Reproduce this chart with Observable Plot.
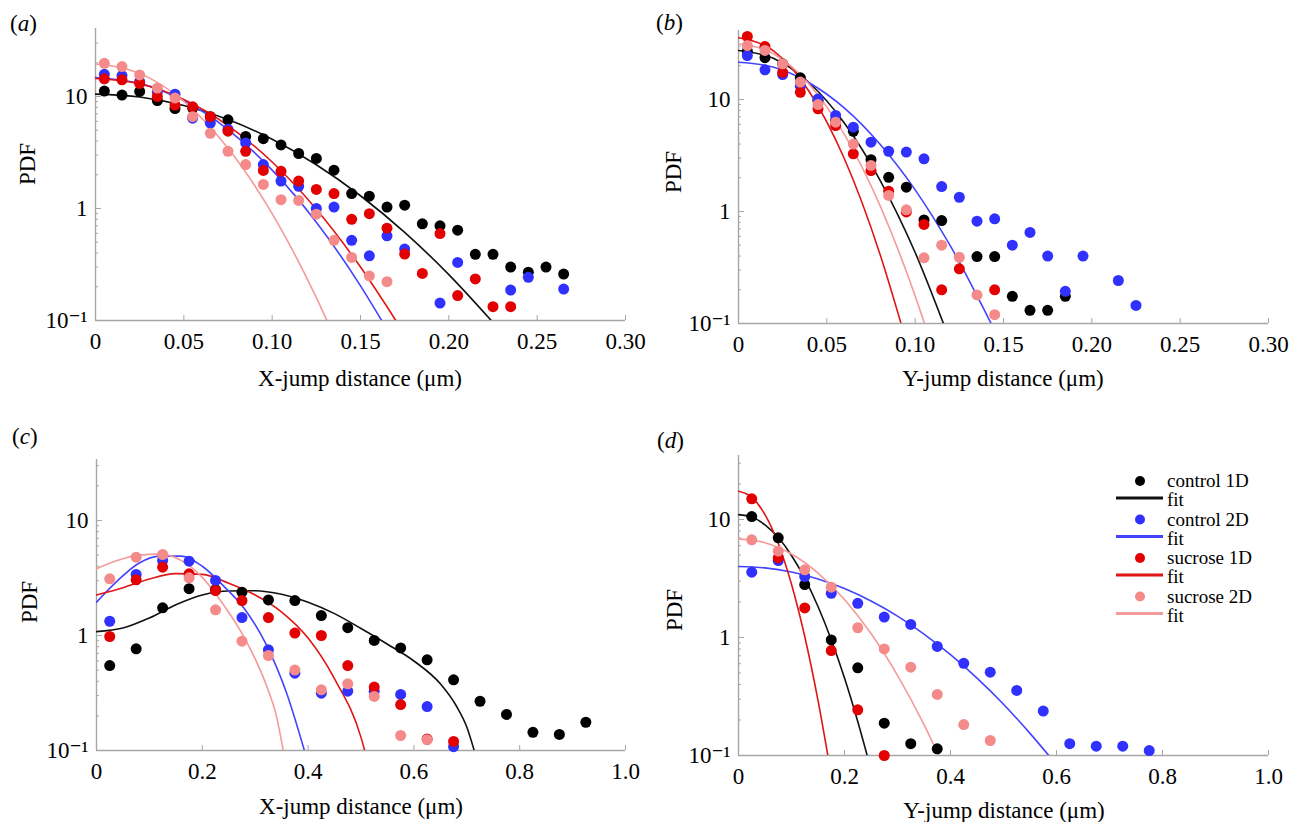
<!DOCTYPE html>
<html><head><meta charset="utf-8">
<script src="https://cdn.jsdelivr.net/npm/d3@7"></script>
<script src="https://cdn.jsdelivr.net/npm/@observablehq/plot@0.6"></script>
<style>
body{margin:0;background:#fff;}
#root{position:relative;width:1291px;height:822px;overflow:hidden;font-family:"Liberation Serif","Times New Roman","DejaVu Serif",serif;color:#000;background:#fff;}
.abs{position:absolute;white-space:nowrap;font-size:23px;line-height:1;}
.ylab{transform:translate(-50%,-50%) rotate(-90deg);}
.xlab{transform:translate(-50%,-50%);}
svg.panel{position:absolute;overflow:visible;}
</style></head><body><div id="root"></div>
<script>
// ---------- data ----------
const seriesNames = ["control 1D", "control 2D", "sucrose 1D", "sucrose 2D"];
const dotColors = ["#000000", "#3030ff", "#e30000", "#f58a8a"];
const lineColors = ["#111111", "#4444ff", "#e01515", "#f59a9a"];

const binsAB = [0.005,0.015,0.025,0.035,0.045,0.055,0.065,0.075,0.085,0.095,0.105,0.115,0.125,0.135,0.145,0.155,0.165,0.175,0.185,0.195,0.205,0.215,0.225,0.235,0.245,0.255,0.265];
const binsCD = [0.025,0.075,0.125,0.175,0.225,0.275,0.325,0.375,0.425,0.475,0.525,0.575,0.625,0.675,0.725,0.775,0.825,0.875,0.925];

const xTicksAB = [0, 0.05, 0.10, 0.15, 0.20, 0.25, 0.30];
const xTicksCD = [0, 0.2, 0.4, 0.6, 0.8, 1.0];
const yTicksMajor = [0.1, 1, 10];
const yTicksMinor = [0.2,0.3,0.4,0.5,0.6,0.7,0.8,0.9,2,3,4,5,6,7,8,9,20,30];

// (a) X-jump, short lag
const a_control1D = [11.2,10.3,11.1,9.2,7.8,7.9,6.6,6.2,4.4,4.2,3.7,3.1,2.8,2.2,1.36,1.29,1.03,1.07,0.73,0.70,0.64,0.39,0.39,0.30,0.27,0.30,0.26];
const a_control2D = [15.8,15.4,13.6,11.0,10.5,6.4,5.8,5.1,3.85,2.47,1.76,1.58,1.0,1.03,0.52,0.378,0.57,0.434,null,0.143,0.33,null,null,0.187,0.243,null,0.191];
const a_sucrose1D = [14.4,14.1,13.1,10.0,8.4,8.1,6.6,4.9,3.24,2.19,2.15,1.76,1.48,1.36,0.80,0.90,0.667,0.392,0.263,0.597,0.167,0.235,0.133,0.133];
const a_sucrose2D = [19.8,18.5,15.6,11.9,9.7,6.6,4.7,3.24,2.47,1.64,1.2,1.18,0.89,0.52,0.366,0.25,0.222];
const a_fit_control1D = [[0,10.5],[0.025,9.9],[0.05,8.3],[0.075,6.23],[0.1,4.15],[0.125,2.46],[0.15,1.30],[0.175,0.612],[0.2,0.257],[0.224,0.1]];
const a_fit_control2D = [[0,14.8],[0.025,13.1],[0.05,9.2],[0.075,5.07],[0.1,2.2],[0.125,0.754],[0.15,0.204],[0.162,0.1]];
const a_fit_sucrose1D = [[0,14.5],[0.025,13.0],[0.05,9.4],[0.075,5.5],[0.1,2.6],[0.125,0.985],[0.15,0.30],[0.17,0.1]];
const a_fit_sucrose2D = [[0,19.5],[0.025,16.1],[0.05,9.05],[0.075,3.46],[0.1,0.90],[0.125,0.16],[0.131,0.1]];

// (b) Y-jump, short lag
const b_control1D = [27,23.6,20.8,15.6,9.8,6.5,5.2,2.9,2.02,1.65,0.84,0.83,null,0.396,0.396,0.175,0.131,0.131,0.175];
const b_control2D = [24.7,18.4,16.7,13.1,10.1,7.2,5.66,4.16,3.45,3.39,2.95,1.67,1.34,0.82,0.86,0.50,0.65,0.40,0.194,0.40,null,0.242,0.145];
const b_sucrose1D = [36.5,29.7,17.5,11.6,8.26,5.86,3.27,2.32,1.52,0.99,0.766,0.20,0.308,null,0.20];
const b_sucrose2D = [30.3,27.4,20.8,14.3,9.0,6.27,4.0,2.58,1.39,1.035,0.386,0.50,0.39,0.18,0.12];
const b_fit_control1D = [[0,27.4],[0.02,23.2],[0.04,14.1],[0.06,6.13],[0.08,1.92],[0.1,0.43],[0.116,0.1]];
const b_fit_control2D = [[0,21.5],[0.02,19.4],[0.04,14.1],[0.06,8.36],[0.08,4.0],[0.1,1.56],[0.12,0.49],[0.143,0.1]];
const b_fit_sucrose1D = [[0,35.6],[0.02,27.0],[0.04,11.8],[0.06,2.94],[0.08,0.42],[0.092,0.1]];
const b_fit_sucrose2D = [[0,31.4],[0.02,25.5],[0.04,13.7],[0.06,4.86],[0.08,1.14],[0.1,0.176],[0.1053,0.1]];

// (c) X-jump, long lag
const c_control1D = [0.548,0.766,1.74,2.55,2.5,2.38,2.04,2.01,1.49,1.17,0.905,0.78,0.614,0.412,0.268,0.206,0.144,0.138,0.176];
const c_control2D = [1.33,3.39,4.49,4.43,3.01,1.43,0.75,0.47,0.315,0.328,0.328,0.307,0.241,0.108];
const c_sucrose1D = [0.98,3.05,3.93,3.44,2.46,2.01,1.43,1.05,1.0,0.548,0.356,0.251,0.126,0.12];
const c_sucrose2D = [3.11,4.8,5.06,3.17,1.67,0.893,0.67,0.50,0.337,0.38,0.295,0.135,0.124];
const c_fit_control1D = [[0,1.08],[0.05,1.16],[0.1,1.42],[0.15,1.85],[0.2,2.25],[0.25,2.44],[0.3,2.45],[0.35,2.28],[0.4,1.95],[0.45,1.55],[0.5,1.15],[0.55,0.84],[0.6,0.6],[0.65,0.38],[0.68,0.245],[0.7,0.16],[0.714,0.1]];
const c_fit_control2D = [[0,1.95],[0.04,3.0],[0.08,4.25],[0.12,4.9],[0.16,4.9],[0.2,4.0],[0.24,2.7],[0.28,1.7],[0.32,0.85],[0.36,0.31],[0.393,0.1]];
const c_fit_sucrose1D = [[0,2.25],[0.05,2.6],[0.1,3.1],[0.15,3.45],[0.2,3.4],[0.25,2.85],[0.3,2.25],[0.35,1.6],[0.4,0.95],[0.45,0.42],[0.5,0.13],[0.507,0.1]];
const c_fit_sucrose2D = [[0,3.8],[0.04,4.5],[0.08,5.0],[0.12,5.1],[0.16,4.5],[0.2,3.2],[0.24,1.85],[0.28,0.95],[0.32,0.38],[0.34,0.2],[0.353,0.1]];

// (d) Y-jump, long lag
const d_control1D = [10.6,7.0,2.81,0.955,0.553,0.188,0.126,0.114];
const d_control2D = [3.58,4.49,3.29,2.37,1.95,1.49,1.29,0.84,0.605,0.508,0.356,0.238,0.126,0.12,0.12,0.110];
const d_sucrose1D = [15.0,4.73,1.78,0.776,0.244,0.10];
const d_sucrose2D = [6.73,5.39,3.75,2.67,1.21,0.80,0.56,0.329,0.183,0.134];
const d_fit_control1D = [[0,11.0],[0.025,10.5],[0.05,9.0],[0.075,7.03],[0.1,4.96],[0.125,3.17],[0.15,1.83],[0.175,0.958],[0.2,0.454],[0.225,0.194],[0.2428,0.1]];
const d_fit_control2D = [[0,4.0],[0.05,3.89],[0.1,3.59],[0.15,3.14],[0.2,2.6],[0.25,2.04],[0.3,1.52],[0.35,1.07],[0.4,0.715],[0.45,0.453],[0.5,0.272],[0.55,0.154],[0.5855,0.1]];
const d_fit_sucrose1D = [[0,17.4],[0.025,15.5],[0.05,11.0],[0.075,6.27],[0.1,2.83],[0.125,1.02],[0.15,0.293],[0.1686,0.1]];
const d_fit_sucrose2D = [[0,6.86],[0.05,6.37],[0.1,5.1],[0.15,3.52],[0.2,2.1],[0.25,1.08],[0.3,0.478],[0.35,0.183],[0.378,0.1]];

// ---------- drawing ----------
const serif = "'Liberation Serif','Times New Roman','DejaVu Serif',serif";
const axisGray = "#a6a6a6";
const fmt2 = d => d === 0 ? "0" : d.toFixed(2);
const fmt1 = d => d === 0 ? "0" : d.toFixed(1);
const yFmt = d => d === 0.1 ? "10\u207B\u00B9" : String(d);

function makePanel(cfg) {
  const dots = [];
  cfg.values.forEach((vals, s) => vals.forEach((v, i) => {
    if (v != null) dots.push({x: cfg.bins[i], y: v, s});
  }));
  const fitRows = [];
  cfg.fits.forEach((pts, s) => pts.forEach(([x, y]) => fitRows.push({x, y, s})));
  const marks = [
    Plot.axisY({ticks: yTicksMinor.filter(t => t < cfg.yDomain[1]), tickSize: -3, tickFormat: () => "", stroke: axisGray, label: null}),
    Plot.axisY({ticks: yTicksMajor, tickSize: -6, tickPadding: 14, tickFormat: yFmt, stroke: axisGray, fill: "#000", fontSize: 23, fontFamily: serif, label: null}),
    Plot.axisX({ticks: cfg.xTicks, tickSize: -5, tickPadding: 17, tickFormat: cfg.xFmt, stroke: axisGray, fill: "#000", fontSize: 23, fontFamily: serif, label: null}),
    Plot.ruleX([cfg.xDomain[0]], {stroke: axisGray, strokeWidth: 1.4}),
    Plot.ruleY([cfg.yDomain[0]], {stroke: axisGray, strokeWidth: 1.4})
  ];
  for (let s = 0; s < 4; s++) {
    marks.push(Plot.line(fitRows.filter(d => d.s === s), {x: "x", y: "y", stroke: lineColors[s], strokeWidth: 1.6, curve: "monotone-x", clip: true}));
  }
  for (let s = 0; s < 4; s++) {
    marks.push(Plot.dot(dots.filter(d => d.s === s), {x: "x", y: "y", r: 5.5, fill: dotColors[s], stroke: null}));
  }
  const svg = Plot.plot({
    width: cfg.width, height: cfg.height,
    marginLeft: cfg.ml, marginRight: cfg.mr, marginTop: cfg.mt, marginBottom: cfg.mb,
    x: {type: "linear", domain: cfg.xDomain},
    y: {type: "log", domain: cfg.yDomain},
    style: {fontFamily: serif, fontSize: "23px", background: "transparent", color: "#000"},
    marks
  });
  svg.classList.add("panel");
  svg.style.left = cfg.left + "px";
  svg.style.top = cfg.top + "px";
  return svg;
}

const root = document.getElementById("root");
const panels = [
  {left: 0, top: 0, width: 645, height: 360, ml: 95, mr: 20, mt: 28, mb: 40,
   xDomain: [0, 0.30], yDomain: [0.1, 40.5], xTicks: xTicksAB, xFmt: fmt2, bins: binsAB,
   values: [a_control1D, a_control2D, a_sucrose1D, a_sucrose2D],
   fits: [a_fit_control1D, a_fit_control2D, a_fit_sucrose1D, a_fit_sucrose2D]},
  {left: 645, top: 0, width: 646, height: 360, ml: 93, mr: 23, mt: 30, mb: 37,
   xDomain: [0, 0.30], yDomain: [0.1, 41.3], xTicks: xTicksAB, xFmt: fmt2, bins: binsAB,
   values: [b_control1D, b_control2D, b_sucrose1D, b_sucrose2D],
   fits: [b_fit_control1D, b_fit_control2D, b_fit_sucrose1D, b_fit_sucrose2D]},
  {left: 0, top: 420, width: 645, height: 370, ml: 96, mr: 20, mt: 39, mb: 40,
   xDomain: [0, 1.0], yDomain: [0.1, 33.9], xTicks: xTicksCD, xFmt: fmt1, bins: binsCD,
   values: [c_control1D, c_control2D, c_sucrose1D, c_sucrose2D],
   fits: [c_fit_control1D, c_fit_control2D, c_fit_sucrose1D, c_fit_sucrose2D]},
  {left: 645, top: 420, width: 646, height: 370, ml: 93, mr: 23, mt: 35, mb: 35,
   xDomain: [0, 1.0], yDomain: [0.1, 34.9], xTicks: xTicksCD, xFmt: fmt1, bins: binsCD,
   values: [d_control1D, d_control2D, d_sucrose1D, d_sucrose2D],
   fits: [d_fit_control1D, d_fit_control2D, d_fit_sucrose1D, d_fit_sucrose2D]}
];
panels.forEach(cfg => root.appendChild(makePanel(cfg)));

// text labels
const panelLetters = ["a", "b", "c", "d"];
const letterPos = [[10, 12], [656, 11], [12, 425], [657, 429]];
panelLetters.forEach((l, i) => {
  const el = document.createElement("div");
  el.className = "abs";
  el.style.left = letterPos[i][0] + "px";
  el.style.top = letterPos[i][1] + "px";
  el.innerHTML = "(<i>" + l + "</i>)";
  root.appendChild(el);
});
const xLabels = ["X-jump distance (\u03BCm)", "Y-jump distance (\u03BCm)", "X-jump distance (\u03BCm)", "Y-jump distance (\u03BCm)"];
const xLabelPos = [[360, 378], [1003, 378], [361, 806], [1004, 810]];
const yLabelPos = [[27, 164], [673, 172], [29, 602], [674, 610]];
xLabels.forEach((t, i) => {
  const el = document.createElement("div");
  el.className = "abs xlab";
  el.style.left = xLabelPos[i][0] + "px";
  el.style.top = xLabelPos[i][1] + "px";
  el.textContent = t;
  root.appendChild(el);
  const yl = document.createElement("div");
  yl.className = "abs ylab";
  yl.style.left = yLabelPos[i][0] + "px";
  yl.style.top = yLabelPos[i][1] + "px";
  yl.textContent = "PDF";
  root.appendChild(yl);
});

// legend (panel d)
const legendX = 1100, legendY = 462, rowStep = 38.5;
const leg = d3.create("svg")
  .attr("width", 191).attr("height", 170)
  .style("position", "absolute").style("left", legendX + "px").style("top", legendY + "px")
  .style("font-family", serif).style("font-size", "19px");
seriesNames.forEach((name, i) => {
  const y0 = 19 + i * rowStep;
  leg.append("circle").attr("cx", 40).attr("cy", y0).attr("r", 5).attr("fill", dotColors[i]);
  leg.append("text").attr("x", 67).attr("y", y0 + 2).attr("dominant-baseline", "middle").text(name);
  leg.append("line").attr("x1", 16).attr("x2", 63).attr("y1", y0 + 17).attr("y2", y0 + 17)
    .attr("stroke", lineColors[i]).attr("stroke-width", 3);
  leg.append("text").attr("x", 67).attr("y", y0 + 21).attr("dominant-baseline", "middle").text("fit");
});
root.appendChild(leg.node());
</script></body></html>
